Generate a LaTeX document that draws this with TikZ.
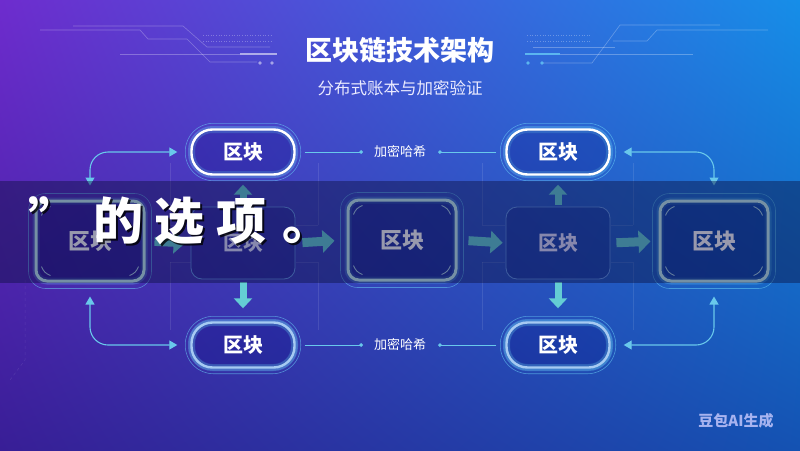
\documentclass[tikz,border=0pt]{standalone}
\usepackage{fontspec}
\newfontfamily\cjk{Noto Sans CJK SC}
\usetikzlibrary{arrows.meta,positioning,fit,calc,shadings}
\definecolor{bgtl}{RGB}{110,44,206}
\definecolor{bgtr}{RGB}{22,142,232}
\definecolor{bgbl}{RGB}{56,30,150}
\definecolor{bgbr}{RGB}{20,82,178}
\definecolor{glowcyan}{RGB}{110,215,250}
\definecolor{linkcyan}{RGB}{105,200,235}
\definecolor{arrowteal}{RGB}{100,205,212}
\definecolor{boxrim}{RGB}{195,238,240}
\definecolor{framecol}{RGB}{100,150,230}
\definecolor{bandcol}{RGB}{10,14,60}

\tikzset{
  pill/.style={draw=white, line width=2.4pt, rounded corners=21pt,
    minimum width=103pt, minimum height=45pt, fill=blue!45!black, fill opacity=0.22,
    text opacity=1, text=white, font=\cjk\bfseries\fontsize{20}{24}\selectfont,
    preaction={draw=glowcyan, line width=7pt, opacity=0.3}},
  pilldim/.style={pill, draw=boxrim!85!blue, preaction={draw=glowcyan, line width=6pt, opacity=0.15}},
  ring/.style={draw=glowcyan, line width=0.6pt, rounded corners=28pt, inner sep=5pt, opacity=0.55},
  bigbox/.style={draw=boxrim, line width=3pt, rounded corners=11pt,
    minimum width=108pt, minimum height=80pt, fill=blue!40!black, fill opacity=0.3,
    text opacity=1, text=white, font=\cjk\bfseries\fontsize{22}{26}\selectfont,
    preaction={draw=glowcyan, line width=7pt, opacity=0.25}},
  bigring/.style={draw=glowcyan, line width=0.6pt, rounded corners=17pt, inner sep=6pt, opacity=0.5},
  midbox/.style={draw=framecol, line width=0.8pt, rounded corners=11pt,
    minimum width=104pt, minimum height=72pt, fill=blue!40!black, fill opacity=0.2,
    text opacity=1, text=white!88!blue, font=\cjk\bfseries\fontsize{20}{24}\selectfont},
  fat/.style={line width=9pt, draw=arrowteal, -{Triangle[length=12pt,width=22pt]}},
  fatv/.style={line width=7pt, draw=arrowteal, -{Triangle[length=10pt,width=18pt]}},
  link/.style={draw=linkcyan, line width=1.1pt, rounded corners=18pt,
    {Triangle[length=8pt,width=9pt]}-{Triangle[length=8pt,width=9pt]}},
  hashline/.style={draw=linkcyan, line width=1pt, -{Circle[length=3.5pt]}},
  hashlabel/.style={text=white, font=\cjk\fontsize{13}{15}\selectfont, inner sep=3pt},
  deco/.style={draw=white, line width=0.6pt, opacity=0.28},
  faint/.style={draw=white, line width=0.5pt, opacity=0.1},
  corner/.style={draw=boxrim, line width=0.9pt, opacity=0.8},
  overlaytext/.style={anchor=west, font=\cjk\bfseries\fontsize{50}{54}\selectfont, inner sep=0pt}
}
\newcommand{\overlaystr}{”\hspace{15pt}的\hspace{11pt}选\hspace{12pt}项\hspace{16pt}。}

\begin{document}
\begin{tikzpicture}[x=1pt, y=-1pt]
    % Background
    \shade[upper left=bgtl, upper right=bgtr, lower left=bgbl, lower right=bgbr] (0,0) rectangle (800,450);
    \useasboundingbox (0,0) rectangle (800,450);
    % Title circuit lines
    \draw[deco] (73,26) -- (183,26) -- (207,47) -- (270,47);
    \draw[deco] (40,30) -- (140,30) -- (148,39) -- (187,39) -- (210,62) -- (257,62);
    \draw[deco] (120,54) -- (240,54);
    \draw[deco, line width=2pt, opacity=0.55] (240,54) -- (277,54);
    \draw[deco, dotted] (203,35) -- (273,35) (203,41) -- (273,41);
    \fill[white, opacity=0.5] (260,63) circle (1.8) (272,63) circle (1.8);
    \draw[deco] (533,47) -- (615,47);
    \draw[deco] (543,63) -- (592,63) -- (620,25) -- (720,25);
    \draw[deco] (613,41) -- (647,41) -- (657,30) -- (768,30);
    \draw[deco] (560,54) -- (693,54);
    \draw[deco, draw=glowcyan, line width=2pt, opacity=0.7] (525,54) -- (560,54);
    \draw[deco, dotted] (527,35) -- (590,35) (527,41) -- (590,41);
    \fill[glowcyan, opacity=0.7] (528,63) circle (1.8) (542,63) circle (1.8);
    % Title
    \node[text=white, font=\cjk\bfseries\fontsize{27}{30}\selectfont] (title) at (400,50) {区块链技术架构};
    \node[text=white!92!blue, font=\cjk\fontsize{16.5}{19}\selectfont] (subtitle) at (400,88) {分布式账本与加密验证};
    % Faint frames
    \foreach \x in {170,318,482,633} {
      \draw[faint] (\x,163) -- (\x,225);
      \draw[faint] (\x,262) -- (\x,330);
    }
    \draw[faint] (170,225) -- (191,225) (318,225) -- (296,225) (482,225) -- (505,225) (633,225) -- (611,225);
    \draw[faint] (170,262) -- (191,262) (318,262) -- (296,262) (482,262) -- (505,262) (633,262) -- (611,262);
    \draw[faint, dashed] (25,280) -- (25,360) -- (10,380);
    % Blocks
    \node[pill] (tl) at (243,152) {区块};
    \node[pill] (tr) at (558,152) {区块};
    \node[pilldim] (bl) at (243,345) {区块};
    \node[pilldim] (br) at (558,345) {区块};
    \foreach \n in {tl,tr,bl,br}
      \node[ring, fit=(\n)] {};
    \node[bigbox] (ml) at (90,241) {区块};
    \node[bigbox] (mc) at (402,240) {区块};
    \node[bigbox] (mr) at (714,241) {区块};
    \foreach \n in {ml,mc,mr} {
      \node[bigring, fit=(\n)] {};
      \draw[corner] ([shift={(7pt,-16pt)}]\n.north west) to[bend left=25] ([shift={(16pt,-7pt)}]\n.north west);
      \draw[corner] ([shift={(-16pt,-7pt)}]\n.north east) to[bend left=25] ([shift={(-7pt,-16pt)}]\n.north east);
      \draw[corner] ([shift={(-7pt,16pt)}]\n.south east) to[bend left=25] ([shift={(-16pt,7pt)}]\n.south east);
      \draw[corner] ([shift={(16pt,7pt)}]\n.south west) to[bend left=25] ([shift={(7pt,16pt)}]\n.south west);
    }
    \node[midbox] (cl) at (243,243) {区块};
    \node[midbox] (cr) at (558,243) {区块};
    % Flow arrows
    \draw[fat, shorten <=9pt, shorten >=5pt] (ml.east) -- (cl.west);
    \draw[fat, shorten <=7pt, shorten >=12pt] (cl.east) -- (mc.west);
    \draw[fat, shorten <=11pt, shorten >=3pt] (mc.east) -- (cr.west);
    \draw[fat, shorten <=6pt, shorten >=8pt] (cr.east) -- (mr.west);
    \draw[fatv, shorten <=2pt, shorten >=9pt] (cl.north) -- (tl.south);
    \draw[fatv, shorten <=3pt, shorten >=13pt] (cl.south) -- (bl.north);
    \draw[fatv, shorten <=2pt, shorten >=9pt] (cr.north) -- (tr.south);
    \draw[fatv, shorten <=3pt, shorten >=13pt] (cr.south) -- (br.north);
    % Side links
    \draw[link, shorten <=14pt, shorten >=13pt] (ml.north) |- (tl.west);
    \draw[link, shorten <=14pt, shorten >=13pt] (ml.south) |- (bl.west);
    \draw[link, shorten <=14pt, shorten >=13pt] (mr.north) |- (tr.east);
    \draw[link, shorten <=14pt, shorten >=13pt] (mr.south) |- (br.east);
    % Hash links
    \node[hashlabel] (hashT) at (400,152) {加密哈希};
    \node[hashlabel] (hashB) at (400,345) {加密哈希};
    \draw[hashline, shorten <=9pt, shorten >=8pt] (tl.east) -- (hashT.west);
    \draw[hashline, shorten <=9pt, shorten >=9pt] (tr.west) -- (hashT.east);
    \draw[hashline, shorten <=9pt, shorten >=8pt] (bl.east) -- (hashB.west);
    \draw[hashline, shorten <=9pt, shorten >=9pt] (br.west) -- (hashB.east);
    % Overlay band
    \fill[bandcol, opacity=0.42] (0,181) rectangle (800,283);
    \node[overlaytext, text=black, opacity=0.8] (overlayshadow) at (30,223) {\overlaystr};
    \node[overlaytext, text=white] (overlay) at (28,221) {\overlaystr};
    % Watermark
    \node[text=white!80!blue, opacity=0.8, font=\cjk\bfseries\fontsize{15}{18}\selectfont] (mark) at (736,421) {豆包AI生成};
  \end{tikzpicture}
\end{document}
